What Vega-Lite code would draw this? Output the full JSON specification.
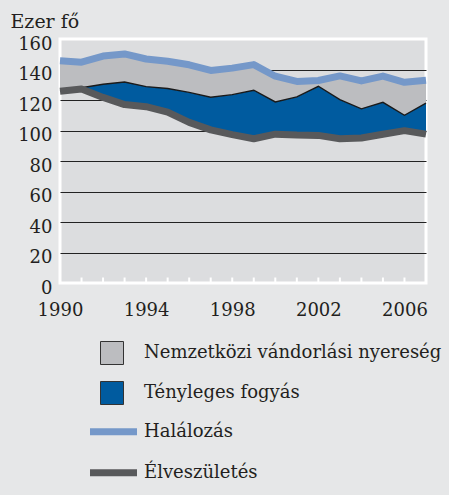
{
  "$schema": "https://vega.github.io/schema/vega-lite/v6.json",
  "width": 366,
  "height": 244,
  "autosize": {"type": "none"},
  "padding": {"left": 60, "top": 39, "right": 23, "bottom": 212},
  "background": "#e6e7e8",
  "config": {
    "font": "DejaVu Serif",
    "view": {"fill": "#dcdddf", "stroke": "#ffffff", "strokeWidth": 3},
    "axis": {"labelFont": "DejaVu Serif", "labelFontSize": 18, "labelColor": "#231f20", "titleFont": "DejaVu Serif", "titleFontWeight": "normal", "titleColor": "#231f20"},
    "axisY": {
      "tickCount": 8,
      "domain": false,
      "ticks": false,
      "labelPadding": 8,
      "labelOffset": 5,
      "labelOverlap": false,
      "labelFlush": false,
      "grid": true,
      "gridColor": "#222222",
      "gridWidth": 1.2,
      "titleAngle": 0,
      "titleAlign": "left",
      "titleBaseline": "alphabetic",
      "titleX": -50,
      "titleY": -12,
      "titleFontSize": 19
    },
    "legend": {"labelFont": "DejaVu Serif", "labelFontSize": 18, "labelColor": "#231f20", "padding": 0, "offset": 0, "labelLimit": 400}
  },
  "data": {
    "values": [
      {"year": 1990, "deaths": 145.7, "births": 125.7, "mid": 126.0},
      {"year": 1991, "deaths": 144.8, "births": 127.2, "mid": 128.0},
      {"year": 1992, "deaths": 148.8, "births": 121.7, "mid": 130.3},
      {"year": 1993, "deaths": 150.2, "births": 117.0, "mid": 131.8},
      {"year": 1994, "deaths": 146.9, "births": 115.6, "mid": 128.8},
      {"year": 1995, "deaths": 145.4, "births": 112.1, "mid": 127.5},
      {"year": 1996, "deaths": 143.1, "births": 105.3, "mid": 125.0},
      {"year": 1997, "deaths": 139.4, "births": 100.4, "mid": 121.8},
      {"year": 1998, "deaths": 140.9, "births": 97.3, "mid": 123.5},
      {"year": 1999, "deaths": 143.2, "births": 94.6, "mid": 126.4},
      {"year": 2000, "deaths": 135.6, "births": 97.6, "mid": 118.7},
      {"year": 2001, "deaths": 132.2, "births": 97.0, "mid": 122.0},
      {"year": 2002, "deaths": 132.8, "births": 96.8, "mid": 129.0},
      {"year": 2003, "deaths": 135.8, "births": 94.6, "mid": 120.2},
      {"year": 2004, "deaths": 132.5, "births": 95.1, "mid": 114.2},
      {"year": 2005, "deaths": 135.7, "births": 97.5, "mid": 118.5},
      {"year": 2006, "deaths": 131.6, "births": 99.9, "mid": 110.0},
      {"year": 2007, "deaths": 132.9, "births": 97.6, "mid": 118.0}
    ]
  },
  "encoding": {
    "x": {
      "field": "year",
      "type": "quantitative",
      "scale": {"domain": [1990, 2007], "nice": false, "zero": false},
      "axis": {
        "title": null,
        "values": [1990, 1994, 1998, 2002, 2006],
        "format": "d",
        "domain": false,
        "grid": false,
        "ticks": false,
        "labelBaseline": "alphabetic",
        "labelPadding": 32,
        "labelFlush": false,
        "labelOverlap": false
      }
    }
  },
  "layer": [
    {
      "mark": {"type": "area"},
      "encoding": {
        "y": {
          "field": "mid",
          "type": "quantitative",
          "title": "Ezer fő",
          "scale": {"domain": [0, 160], "nice": false},
          "axis": {
            "gridColor": {"condition": {"test": "datum.value <= 0 || datum.value >= 160", "value": "transparent"}, "value": "#222222"}
          }
        },
        "y2": {"field": "deaths"},
        "fill": {
          "datum": "Nemzetközi vándorlási nyereség",
          "scale": {"domain": ["Nemzetközi vándorlási nyereség", "Tényleges fogyás"], "range": ["#bcbdc0", "#005b9f"]},
          "legend": {
            "title": null,
            "orient": "none",
            "legendX": 40,
            "legendY": 302,
            "symbolType": "square",
            "symbolSize": 529,
            "symbolStrokeColor": "#333333",
            "symbolStrokeWidth": 1,
            "labelOffset": 20,
            "rowPadding": 12
          }
        }
      }
    },
    {
      "mark": {"type": "area"},
      "encoding": {
        "y": {"field": "births", "type": "quantitative", "title": "Ezer fő"},
        "y2": {"field": "mid"},
        "fill": {"datum": "Tényleges fogyás"}
      }
    },
    {
      "mark": {"type": "line", "color": "#1a1a1a", "strokeWidth": 1.4},
      "encoding": {
        "y": {"field": "mid", "type": "quantitative", "title": "Ezer fő"}
      }
    },
    {
      "mark": {"type": "line", "strokeWidth": 7, "strokeJoin": "round"},
      "encoding": {
        "y": {"field": "births", "type": "quantitative", "title": "Ezer fő"},
        "stroke": {
          "datum": "Élveszületés",
          "scale": {"domain": ["Halálozás", "Élveszületés"], "range": ["#7598c9", "#58595b"]},
          "legend": {
            "title": null,
            "orient": "none",
            "legendX": 26.5,
            "legendY": 365.7,
            "symbolType": "stroke",
            "symbolSize": 2209,
            "symbolStrokeWidth": 7,
            "labelOffset": 3.5,
            "rowPadding": -23
          }
        }
      }
    },
    {
      "mark": {"type": "line", "strokeWidth": 7, "strokeJoin": "round"},
      "encoding": {
        "y": {"field": "deaths", "type": "quantitative", "title": "Ezer fő"},
        "stroke": {"datum": "Halálozás"}
      }
    },
    {
      "mark": {"type": "rule", "color": "#ffffff", "strokeWidth": 2},
      "encoding": {
        "y": {"datum": 0, "type": "quantitative", "title": "Ezer fő"},
        "y2": {"datum": 3.6}
      }
    }
  ]
}
